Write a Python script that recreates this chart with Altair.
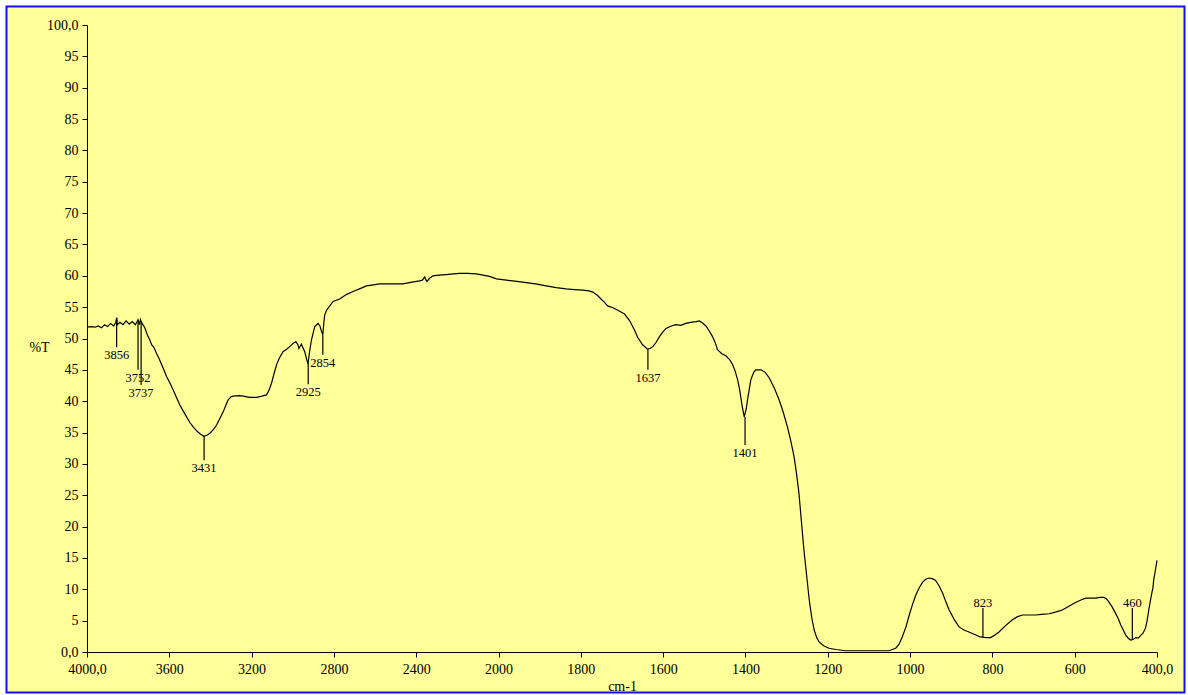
import altair as alt
import pandas as pd

# Infrared transmission spectrum (%T vs wavenumber)
wavenumber = [
    4000, 3980, 3960, 3945, 3930, 3915, 3900, 3885, 3870, 3860, 3856, 3852, 3840, 3825,
    3810, 3795, 3780, 3765, 3755, 3752, 3745, 3740, 3737, 3730, 3720, 3707, 3695, 3686,
    3675, 3662, 3650, 3637, 3625, 3613, 3597, 3581, 3565, 3549, 3530, 3516, 3500, 3484,
    3465, 3451, 3432, 3415, 3403, 3385, 3370, 3355, 3338, 3325, 3314, 3300, 3290, 3260,
    3241, 3210, 3176, 3150, 3128, 3115, 3103, 3090, 3079, 3065, 3047, 3030, 3015, 2995,
    2985, 2975, 2970, 2958, 2950, 2942, 2935, 2926, 2918, 2909, 2900, 2893, 2877, 2868,
    2862, 2854, 2849, 2845, 2836, 2829, 2804, 2772, 2740, 2707, 2670, 2642, 2600, 2578,
    2520, 2465, 2420, 2384, 2370, 2359, 2352, 2348, 2335, 2319, 2290, 2254, 2220, 2189,
    2150, 2108, 2075, 2044, 2010, 1981, 1955, 1933, 1910, 1884, 1860, 1836, 1815, 1795,
    1780, 1771, 1760, 1751, 1743, 1735, 1722, 1710, 1694, 1682, 1670, 1662, 1650, 1643,
    1638, 1632, 1625, 1617, 1609, 1600, 1593, 1580, 1569, 1557, 1545, 1530, 1520, 1512,
    1505, 1496, 1488, 1480, 1472, 1468, 1458, 1447, 1438, 1431, 1425, 1419, 1414, 1408,
    1403, 1398, 1395, 1390, 1387, 1380, 1375, 1362, 1352, 1342, 1330, 1318, 1308, 1298,
    1290, 1282, 1276, 1270, 1264, 1258, 1251, 1245, 1239, 1233, 1227, 1221, 1210, 1197,
    1180, 1157, 1120, 1075, 1051, 1043, 1035, 1027, 1019, 1010, 1002, 994, 986, 978,
    970, 962, 954, 946, 938, 930, 921, 913, 905, 893, 881, 869, 857, 843,
    829, 815, 804, 794, 784, 768, 752, 740, 727, 710, 695, 680, 662, 645,
    630, 614, 598, 585, 573, 560, 549, 539, 529, 523, 517, 509, 501, 494,
    488, 482, 476, 470, 464, 458, 452, 446, 440, 434, 428, 424, 420, 416,
    412, 410, 408, 404, 400,
]
transmittance = [
    51.8, 51.9, 51.8, 52.0, 51.7, 52.2, 51.9, 52.4, 52.0, 52.6, 53.3, 52.2, 52.6, 52.2,
    52.8, 52.3, 52.7, 52.2, 52.8, 53.0, 52.2, 53.0, 52.7, 52.3, 51.8, 50.6, 49.8, 49.0,
    48.6, 47.6, 46.8, 45.8, 44.9, 43.9, 42.9, 41.8, 40.6, 39.4, 38.3, 37.5, 36.6, 35.9,
    35.2, 34.8, 34.4, 34.6, 34.9, 35.5, 36.2, 37.2, 38.3, 39.4, 40.2, 40.7, 40.8, 40.9,
    40.8, 40.6, 40.6, 40.8, 41.0, 41.8, 42.9, 44.5, 45.8, 46.9, 47.9, 48.3, 48.7, 49.3,
    49.5, 49.0, 48.4, 49.1, 48.5, 47.9, 47.0, 45.9, 48.0, 49.8, 51.0, 51.9, 52.4, 52.0,
    51.3, 50.6, 52.5, 53.7, 54.5, 54.8, 55.9, 56.3, 57.0, 57.5, 58.0, 58.4, 58.6, 58.7,
    58.7, 58.7, 59.0, 59.2, 59.3, 59.8, 59.3, 59.1, 59.6, 60.0, 60.1, 60.2, 60.3, 60.4,
    60.4, 60.3, 60.1, 59.9, 59.5, 59.3, 59.1, 58.9, 58.7, 58.4, 58.1, 57.9, 57.8, 57.7,
    57.6, 57.4, 56.9, 56.3, 55.8, 55.2, 54.9, 54.5, 53.9, 52.9, 51.4, 50.2, 49.0, 48.6,
    48.3, 48.4, 48.7, 49.4, 50.3, 51.1, 51.6, 52.0, 52.2, 52.1, 52.4, 52.6, 52.7, 52.8,
    52.5, 52.0, 51.2, 50.3, 49.1, 48.2, 47.6, 47.2, 46.6, 45.8, 44.8, 43.4, 41.8, 39.2,
    37.5, 38.8, 40.2, 42.2, 43.4, 44.6, 45.0, 45.0, 44.6, 43.7, 42.1, 40.2, 38.2, 35.9,
    33.7, 31.2, 28.5, 25.3, 20.8, 16.3, 12.0, 8.3, 5.5, 3.5, 2.3, 1.6, 1.0, 0.6,
    0.4, 0.2, 0.2, 0.2, 0.2, 0.4, 0.6, 1.2, 2.4, 4.0, 5.9, 7.6, 9.1, 10.2,
    11.1, 11.6, 11.8, 11.7, 11.4, 10.6, 9.4, 8.0, 6.7, 5.2, 4.0, 3.5, 3.2, 2.8,
    2.4, 2.3, 2.3, 2.7, 3.2, 4.2, 5.1, 5.6, 5.9, 5.9, 5.9, 6.0, 6.1, 6.4,
    6.7, 7.3, 7.9, 8.3, 8.6, 8.6, 8.6, 8.7, 8.7, 8.5, 8.0, 7.2, 6.2, 5.3,
    4.3, 3.5, 2.7, 2.2, 1.9, 2.0, 2.3, 2.2, 2.6, 3.0, 3.8, 5.0, 6.7, 8.2,
    9.6, 10.2, 11.5, 13.0, 14.6,
]

# Peak markers: position, where the marker leaves the curve, where it ends, label side
peak_wn = [3856, 3752, 3737, 3431, 2925, 2854, 1637, 1401, 823, 460]
peak_curve = [53.3, 52.6, 52.6, 34.4, 46.0, 50.6, 48.3, 37.5, 2.4, 1.9]
peak_end = [48.6, 45.0, 42.6, 30.6, 42.7, 47.4, 45.0, 33.0, 7.0, 7.0]
peak_side = ["below", "below", "below", "below", "below", "below", "below", "below", "above", "above"]

x_ticks = [4000, 3600, 3200, 2800, 2400, 2000, 1800, 1600, 1400, 1200, 1000, 800, 600, 400]
y_ticks = [0, 5, 10, 15, 20, 25, 30, 35, 40, 45, 50, 55, 60, 65, 70, 75, 80, 85, 90, 95, 100]

spectrum = pd.DataFrame({"wn": wavenumber, "t": transmittance})
peaks = pd.DataFrame({
    "wn": peak_wn, "y1": peak_curve, "y2": peak_end,
    "side": peak_side, "label": [str(p) for p in peak_wn],
})

W, H = 1070, 627
FONT = "Liberation Serif"

# Wavenumber axis is expanded 2x below 2000 cm-1
x_scale = alt.Scale(domain=[4000, 2000, 400], range=[0, W * 5 / 13, W], nice=False)
y_scale = alt.Scale(domain=[0, 100], nice=False, zero=False)

x_axis = alt.Axis(
    values=x_ticks, format="d", title="cm-1",
    labelExpr="datum.value == 4000 ? '4000,0' : datum.value == 400 ? '400,0' : datum.label",
    labelFlush=False, labelOverlap=False, grid=False, tickSize=5, labelPadding=5,
    domainColor="black", tickColor="black", labelColor="black", titleColor="black",
    labelFont=FONT, labelFontSize=14, titleFont=FONT, titleFontSize=14,
    titleFontWeight="normal", titleY=34, titleBaseline="middle", zindex=1,
)
y_axis = alt.Axis(
    values=y_ticks, tickCount=21, format="d", title="%T",
    labelExpr="datum.value == 0 ? '0,0' : datum.value == 100 ? '100,0' : datum.label",
    labelFlush=False, labelOverlap=False, grid=False, tickSize=5, labelPadding=4,
    domainColor="black", tickColor="black", labelColor="black", titleColor="black",
    labelFont=FONT, labelFontSize=14, titleFont=FONT, titleFontSize=14,
    titleFontWeight="normal", titleAngle=0, titleX=-48, titleY=322,
    titleAlign="center", titleBaseline="middle", zindex=1,
)


def xenc():
    return alt.X("wn:Q", scale=x_scale, axis=x_axis)


def yenc(field):
    return alt.Y(field, scale=y_scale, axis=y_axis)


# Yellow panel with blue frame behind everything
frame = alt.Chart(pd.DataFrame({"k": [0]})).mark_rect(
    fill="#ffff99", stroke="#1010ff", strokeWidth=2
).encode(
    x=alt.value(-80.5), x2=alt.value(1097.5),
    y=alt.value(-18.5), y2=alt.value(667.5),
)

line = alt.Chart(spectrum).mark_line(color="black", strokeWidth=1.2).encode(
    x=xenc(),
    y=yenc("t:Q"),
    order=alt.Order("wn:Q", sort="descending"),
)

rules = alt.Chart(peaks).mark_rule(color="black", strokeWidth=1.2).encode(
    x=xenc(),
    y=yenc("y1:Q"),
    y2="y2:Q",
)

labels_below = alt.Chart(peaks).transform_filter(
    alt.datum.side == "below"
).mark_text(font=FONT, fontSize=12.5, color="black", baseline="alphabetic", dy=12).encode(
    x=xenc(),
    y=yenc("y2:Q"),
    text="label:N",
)

labels_above = alt.Chart(peaks).transform_filter(
    alt.datum.side == "above"
).mark_text(font=FONT, fontSize=12.5, color="black", baseline="alphabetic", dy=-1).encode(
    x=xenc(),
    y=yenc("y2:Q"),
    text="label:N",
)

chart = alt.layer(frame, line, rules, labels_below, labels_above).properties(
    width=W, height=H,
    autosize=alt.AutoSizeParams(type="none"),
    padding={"left": 87, "top": 25, "right": 31, "bottom": 43},
    background="white",
).configure_view(strokeWidth=0)

chart.save("out.html", embed_options={"renderer": "svg", "actions": False})
